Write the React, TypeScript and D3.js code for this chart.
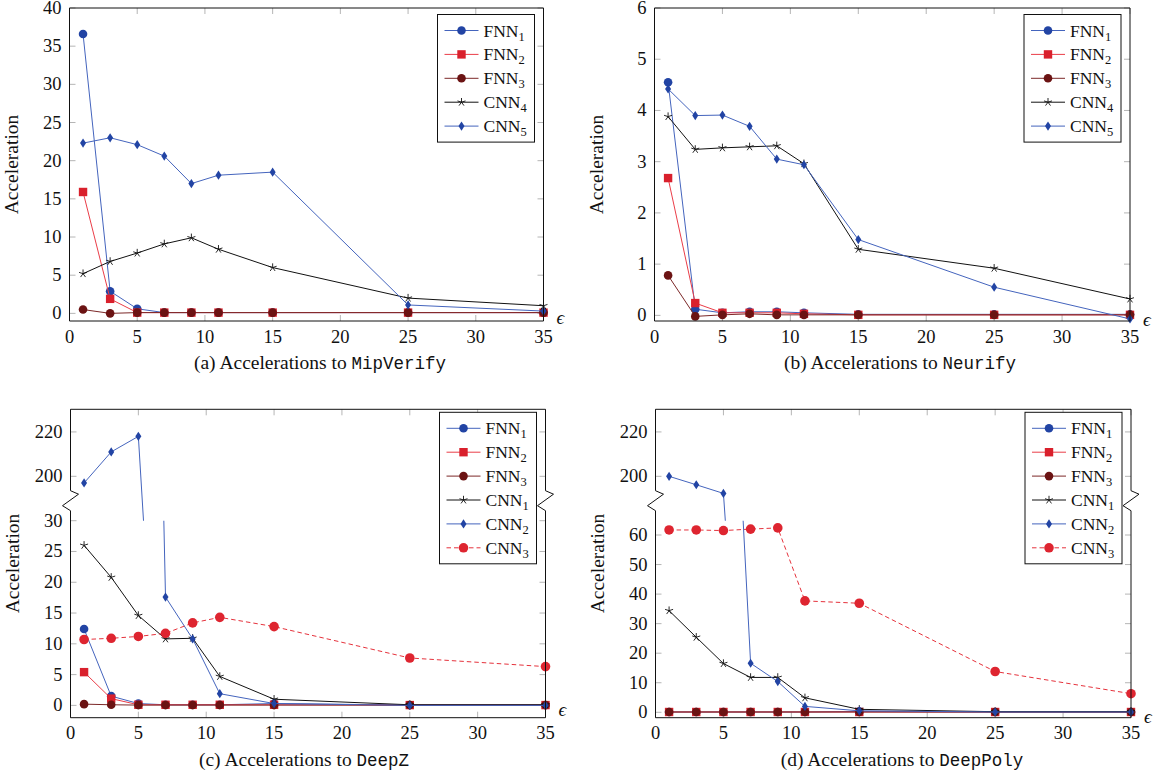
import React from 'react'
import * as d3 from 'd3'

const SERIF = "'Liberation Serif', 'DejaVu Serif', serif"
const MONO = "'Liberation Mono', 'DejaVu Sans Mono', monospace"

// perturbation sizes
const eps = [1, 3, 5, 7, 9, 11, 15, 25, 35]
const xTicks = [0, 5, 10, 15, 20, 25, 30, 35]

// (a) MipVerify
const mipFNN1 = [36.6, 2.9, 0.6, 0.1, 0.1, 0.1, 0.1, 0.1, 0.1]
const mipFNN2 = [15.9, 1.9, 0.1, 0.1, 0.1, 0.1, 0.1, 0.1, 0.1]
const mipFNN3 = [0.5, 0.0, 0.1, 0.1, 0.1, 0.1, 0.1, 0.1, 0.1]
const mipCNN4 = [5.2, 6.8, 7.9, 9.1, 9.9, 8.4, 6.0, 2.0, 1.0]
const mipCNN5 = [22.3, 23.0, 22.1, 20.6, 17.0, 18.1, 18.5, 1.1, 0.3]
const mipTicks = [0, 5, 10, 15, 20, 25, 30, 35, 40]

// (b) Neurify
const neuFNN1 = [4.55, 0.12, 0.05, 0.07, 0.07, 0.05, 0.02, 0.02, 0.02]
const neuFNN2 = [2.68, 0.24, 0.05, 0.05, 0.05, 0.03, 0.01, 0.01, 0.01]
const neuFNN3 = [0.78, -0.02, 0.01, 0.03, 0.01, 0.01, 0.01, 0.01, 0.01]
const neuCNN4 = [3.88, 3.24, 3.27, 3.29, 3.31, 2.96, 1.29, 0.92, 0.32]
const neuCNN5 = [4.42, 3.9, 3.91, 3.69, 3.05, 2.94, 1.48, 0.55, -0.07]
const neuTicks = [0, 1, 2, 3, 4, 5, 6]

// (c) DeepZ
const dzFNN1 = [12.4, 1.5, 0.3, 0.1, 0.1, 0.1, 0.3, 0.05, 0.05]
const dzFNN2 = [5.4, 1.1, 0.1, 0.1, 0.1, 0.1, 0.1, 0.05, 0.05]
const dzFNN3 = [0.2, 0.1, 0.05, 0.05, 0.05, 0.05, 0.05, 0.05, 0.05]
const dzCNN1 = [26.0, 20.8, 14.6, 10.8, 10.9, 4.7, 1.0, 0.1, 0.1]
const dzCNN2 = [197, 211, 218, 17.6, 10.8, 1.9, 0.3, 0.0, 0.0]
const dzCNN3 = [10.7, 10.9, 11.2, 11.7, 13.4, 14.3, 12.8, 7.7, 6.3]
const dzLowTicks = [0, 5, 10, 15, 20, 25, 30]

// (d) DeepPoly
const dpFNN1 = [0.1, 0.1, 0.1, 0.1, 0.1, 0.1, 0.3, 0.1, 0.1]
const dpFNN2 = [0.1, 0.1, 0.1, 0.1, 0.1, 0.1, 0.1, 0.1, 0.1]
const dpFNN3 = [0.1, 0.1, 0.1, 0.1, 0.1, 0.1, 0.1, 0.1, 0.1]
const dpCNN1 = [34.4, 25.4, 16.5, 11.8, 11.8, 4.9, 1.0, 0.2, 0.2]
const dpCNN2 = [200, 196.2, 192.3, 16.6, 10.4, 2.0, 0.5, 0.1, 0.1]
const dpCNN3 = [61.7, 61.7, 61.5, 62.0, 62.4, 37.7, 36.9, 13.8, 6.3]
const dpLowTicks = [0, 10, 20, 30, 40, 50, 60]

const upperTicks = [200, 220]

const STYLES: any = {
  blueCircle: { line: '#4464bd', fill: '#2244a4', shape: 'circle', dash: null },
  redSquare: { line: '#ea3d48', fill: '#d9202c', shape: 'square', dash: null },
  darkCircle: { line: '#7c2828', fill: '#6b1313', shape: 'circle', dash: null },
  star: { line: '#111', fill: '#111', shape: 'star', dash: null },
  diamond: { line: '#4464bd', fill: '#2244a4', shape: 'diamond', dash: null },
  redCircle: { line: '#e5323c', fill: '#de2530', shape: 'bigcircle', dash: '4.5 3' }
}

const seriesA = [
  { name: 'FNN', sub: '1', values: mipFNN1, st: 'blueCircle' },
  { name: 'FNN', sub: '2', values: mipFNN2, st: 'redSquare' },
  { name: 'FNN', sub: '3', values: mipFNN3, st: 'darkCircle' },
  { name: 'CNN', sub: '4', values: mipCNN4, st: 'star' },
  { name: 'CNN', sub: '5', values: mipCNN5, st: 'diamond' }
]
const seriesB = [
  { name: 'FNN', sub: '1', values: neuFNN1, st: 'blueCircle' },
  { name: 'FNN', sub: '2', values: neuFNN2, st: 'redSquare' },
  { name: 'FNN', sub: '3', values: neuFNN3, st: 'darkCircle' },
  { name: 'CNN', sub: '4', values: neuCNN4, st: 'star' },
  { name: 'CNN', sub: '5', values: neuCNN5, st: 'diamond' }
]
const seriesC = [
  { name: 'FNN', sub: '1', values: dzFNN1, st: 'blueCircle' },
  { name: 'FNN', sub: '2', values: dzFNN2, st: 'redSquare' },
  { name: 'FNN', sub: '3', values: dzFNN3, st: 'darkCircle' },
  { name: 'CNN', sub: '1', values: dzCNN1, st: 'star' },
  { name: 'CNN', sub: '2', values: dzCNN2, st: 'diamond' },
  { name: 'CNN', sub: '3', values: dzCNN3, st: 'redCircle' }
]
const seriesD = [
  { name: 'FNN', sub: '1', values: dpFNN1, st: 'blueCircle' },
  { name: 'FNN', sub: '2', values: dpFNN2, st: 'redSquare' },
  { name: 'FNN', sub: '3', values: dpFNN3, st: 'darkCircle' },
  { name: 'CNN', sub: '1', values: dpCNN1, st: 'star' },
  { name: 'CNN', sub: '2', values: dpCNN2, st: 'diamond' },
  { name: 'CNN', sub: '3', values: dpCNN3, st: 'redCircle' }
]

const serif = { fontFamily: SERIF }

function Marker({ st, x, y }: any) {
  const s = STYLES[st]
  if (s.shape === 'circle') return <circle cx={x} cy={y} r={4.3} fill={s.fill} />
  if (s.shape === 'bigcircle') return <circle cx={x} cy={y} r={4.8} fill={s.fill} />
  if (s.shape === 'square') return <rect x={x - 4.2} y={y - 4.2} width={8.4} height={8.4} fill={s.fill} />
  if (s.shape === 'diamond')
    return <path d={`M${x},${y - 4.6}L${x + 3},${y}L${x},${y + 4.6}L${x - 3},${y}Z`} fill={s.fill} />
  // star: five spokes
  const d = d3
    .range(5)
    .map((i) => {
      const a = ((90 + i * 72) * Math.PI) / 180
      return `M${x},${y}L${x + 4.2 * Math.cos(a)},${y - 4.2 * Math.sin(a)}`
    })
    .join('')
  return <path d={d} stroke={s.line} strokeWidth={0.9} fill="none" />
}

function zig(x: number, y: number) {
  return `M${x},${y}L${x + 8},${y + 3.5}L${x - 8},${y + 15}L${x},${y + 20}`
}

function Panel({ pid, left, right, top, bottom, regions, breakY, series, caption, tool, captionX }: any) {
  const x = d3.scaleLinear().domain([0, 35]).range([left, right])
  const broken = regions.length > 1
  const low = d3.scaleLinear().domain(regions[0].domain).range(regions[0].range)
  const zeroY = low(0)
  const tickCol = '#b5b5b5'
  const tl = 6
  const legW = 97
  const legX = right - 9 - legW
  const legY = top + (broken ? 3 : 6.5)
  const rowH = 23.9
  const legH = 16 * 2 + (series.length - 1) * rowH

  return (
    <g>
      <defs>
        {broken &&
          regions.map((r: any, i: number) => (
            <clipPath id={`${pid}-clip${i}`} key={i}>
              <rect x={left - 30} y={r.range[1]} width={right - left + 60} height={r.range[0] - r.range[1]} />
            </clipPath>
          ))}
      </defs>

      {/* ticks */}
      {xTicks.map((t) => (
        <g key={'xt' + t}>
          <line x1={x(t)} x2={x(t)} y1={bottom} y2={bottom - tl} stroke={tickCol} />
          <line x1={x(t)} x2={x(t)} y1={top} y2={top + tl} stroke={tickCol} />
          <text x={x(t)} y={bottom + 21.5} textAnchor="middle" style={serif} fontSize={18.5} fill="#111">
            {t}
          </text>
        </g>
      ))}
      {regions.map((r: any, i: number) => {
        const y = d3.scaleLinear().domain(r.domain).range(r.range)
        return r.ticks.map((t: number) => (
          <g key={`yt${i}-${t}`}>
            <line x1={left} x2={left + tl} y1={y(t)} y2={y(t)} stroke={tickCol} />
            <line x1={right} x2={right - tl} y1={y(t)} y2={y(t)} stroke={tickCol} />
            <text x={left - 8} y={y(t) + 6} textAnchor="end" style={serif} fontSize={18.5} fill="#111">
              {t}
            </text>
          </g>
        ))
      })}

      {/* series */}
      {series.map((s: any, si: number) => {
        const st = STYLES[s.st]
        return (
          <g key={'s' + si}>
            {regions.map((r: any, i: number) => {
              const y = d3.scaleLinear().domain(r.domain).range(r.range)
              const line = d3
                .line<number>()
                .x((d, k) => x(eps[k]))
                .y((d) => y(d))
              const pts = s.values
                .map((v: number, k: number) => [v, k])
                .filter((p: number[]) => !broken || (p[0] >= r.domain[0] - 1 && p[0] <= r.domain[1] + 1))
              return (
                <g key={i} clipPath={broken ? `url(#${pid}-clip${i})` : undefined}>
                  <path
                    d={line(s.values) || ''}
                    fill="none"
                    stroke={st.line}
                    strokeWidth={1}
                    strokeDasharray={st.dash || undefined}
                  />
                  {pts.map((p: number[]) => (
                    <Marker key={p[1]} st={s.st} x={x(eps[p[1]])} y={y(p[0])} />
                  ))}
                </g>
              )
            })}
          </g>
        )
      })}

      {/* frame */}
      <line x1={left} x2={right} y1={top} y2={top} stroke="#111" />
      <line x1={left} x2={right} y1={bottom} y2={bottom} stroke="#111" />
      {broken ? (
        <g stroke="#111" fill="none">
          <path d={`M${left},${top}L${left},${breakY}`} />
          <path d={zig(left, breakY)} />
          <path d={`M${left},${breakY + 20}L${left},${bottom}`} />
          <path d={`M${right},${top}L${right},${breakY}`} />
          <path d={zig(right, breakY)} />
          <path d={`M${right},${breakY + 20}L${right},${bottom}`} />
        </g>
      ) : (
        <g stroke="#111">
          <line x1={left} x2={left} y1={top} y2={bottom} />
          <line x1={right} x2={right} y1={top} y2={bottom} />
        </g>
      )}

      {/* legend */}
      <rect x={legX} y={legY} width={legW} height={legH} fill="#fff" stroke="#111" />
      {series.map((s: any, i: number) => {
        const st = STYLES[s.st]
        const cy = legY + 16 + i * rowH
        return (
          <g key={'lg' + i}>
            <line
              x1={legX + 7}
              x2={legX + 41}
              y1={cy}
              y2={cy}
              stroke={st.line}
              strokeWidth={1}
              strokeDasharray={st.dash || undefined}
            />
            <Marker st={s.st} x={legX + 24} y={cy} />
            <text x={legX + 46} y={cy + 6} style={serif} fontSize={17.5} fill="#111">
              {s.name}
              <tspan fontSize={12.5} dy={4}>
                {s.sub}
              </tspan>
            </text>
          </g>
        )
      })}

      {/* labels */}
      <text
        transform={`translate(${left - 52},${(top + bottom) / 2}) rotate(-90)`}
        textAnchor="middle"
        style={serif}
        fontSize={19.5}
        fill="#111"
      >
        Acceleration
      </text>
      <text x={right + 13} y={zeroY + 11} style={serif} fontStyle="italic" fontSize={19} fill="#111">
        ϵ
      </text>
      <text x={captionX} y={bottom + 48} textAnchor="middle" style={serif} fontSize={19.5} fill="#111">
        {caption}
        <tspan style={{ fontFamily: MONO }} fontSize={17.5}>
          {tool}
        </tspan>
      </text>
    </g>
  )
}

const App = () => {
  return (
    <svg
      width={1156}
      height={773}
      style={{ position: 'absolute', left: 0, top: 0, background: '#fff', fontFamily: SERIF }}
    >
      <Panel
        pid="pa"
        left={69.5}
        right={543.5}
        top={8}
        bottom={321}
        regions={[{ domain: [-1, 40], range: [321, 8], ticks: mipTicks }]}
        series={seriesA}
        caption="(a) Accelerations to "
        tool="MipVerify"
        captionX={320}
      />
      <Panel
        pid="pb"
        left={654.5}
        right={1130}
        top={8}
        bottom={321}
        regions={[{ domain: [-0.11, 6], range: [321, 8], ticks: neuTicks }]}
        series={seriesB}
        caption="(b) Accelerations to "
        tool="Neurify"
        captionX={900}
      />
      <Panel
        pid="pc"
        left={70.5}
        right={545.5}
        top={409.3}
        bottom={717.7}
        breakY={490.7}
        regions={[
          { domain: [-2, 30], range: [717.7, 520.7], ticks: dzLowTicks },
          { domain: [180, 230.2], range: [520.7, 409.3], ticks: upperTicks }
        ]}
        series={seriesC}
        caption="(c) Accelerations to "
        tool="DeepZ"
        captionX={304}
      />
      <Panel
        pid="pd"
        left={655.5}
        right={1131}
        top={409.3}
        bottom={717.7}
        breakY={490.7}
        regions={[
          { domain: [-1.83, 64.84], range: [717.7, 520.7], ticks: dpLowTicks },
          { domain: [180, 230.2], range: [520.7, 409.3], ticks: upperTicks }
        ]}
        series={seriesD}
        caption="(d) Accelerations to "
        tool="DeepPoly"
        captionX={902}
      />
    </svg>
  )
}

export default App
